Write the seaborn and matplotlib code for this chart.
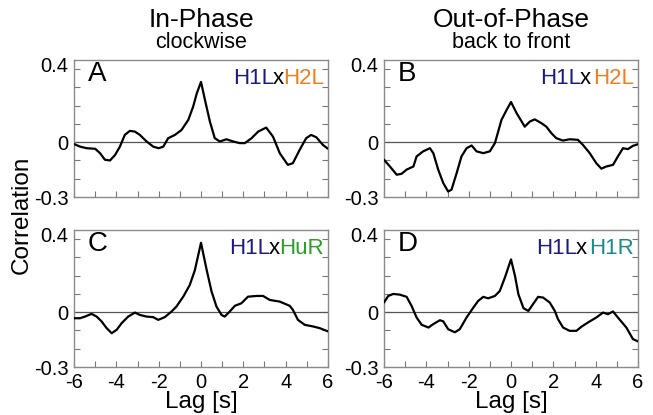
import numpy as np
import pandas as pd
import matplotlib
matplotlib.use("Agg")
import matplotlib.pyplot as plt
import matplotlib.transforms as mtransforms
import seaborn as sns

sns.set_theme(style="white")
plt.rcParams['font.family'] = ['Liberation Sans', 'DejaVu Sans']
plt.rcParams['text.color'] = 'black'

# ---- data ----
lag_A = [-6.0, -5.72, -5.4, -5.0, -4.77, -4.54, -4.3, -4.06, -3.83, -3.6, -3.36, -3.12, -2.89,
         -2.57, -2.26, -2.0, -1.78, -1.55, -1.23, -0.92, -0.6, -0.37, -0.2, 0.0, 0.19, 0.42,
         0.65, 0.89, 1.2, 1.52, 1.83, 2.07, 2.39, 2.7, 3.08, 3.4, 3.72, 4.1, 4.34, 4.66, 4.97,
         5.2, 5.45, 5.76, 6.0]
corr_A = [-0.01, -0.024, -0.033, -0.036, -0.06, -0.096, -0.1, -0.07, -0.024, 0.04, 0.062, 0.058,
          0.04, 0.004, -0.024, -0.033, -0.024, 0.022, 0.04, 0.067, 0.122, 0.195, 0.267, 0.33,
          0.23, 0.113, 0.022, 0.004, 0.016, 0.004, -0.005, -0.005, 0.022, 0.058, 0.08, 0.031,
          -0.06, -0.124, -0.115, -0.042, 0.022, 0.04, 0.027, -0.015, -0.036]

lag_B = [-6.0, -5.72, -5.4, -5.17, -4.93, -4.61, -4.46, -4.15, -3.83, -3.67, -3.44, -3.2, -2.97,
         -2.81, -2.57, -2.34, -2.1, -1.86, -1.63, -1.31, -1.0, -0.76, -0.45, -0.21, 0.0, 0.27,
         0.65, 0.89, 1.12, 1.44, 1.67, 1.91, 2.14, 2.45, 2.77, 3.16, 3.4, 3.72, 4.03, 4.27,
         4.5, 4.82, 5.05, 5.29, 5.52, 5.76, 6.0]
corr_B = [-0.096, -0.133, -0.178, -0.173, -0.15, -0.133, -0.078, -0.05, -0.033, -0.06, -0.15,
          -0.224, -0.27, -0.26, -0.17, -0.078, -0.033, -0.018, -0.05, -0.06, -0.05, -0.005, 0.122,
          0.176, 0.22, 0.158, 0.085, 0.113, 0.125, 0.104, 0.085, 0.049, 0.022, 0.009, 0.016,
          0.013, -0.015, -0.06, -0.115, -0.145, -0.133, -0.124, -0.078, -0.033, -0.038, -0.02,
          -0.011]

lag_C = [-6.0, -5.72, -5.48, -5.17, -4.93, -4.7, -4.46, -4.22, -3.98, -3.75, -3.44, -3.12, -2.89,
         -2.57, -2.26, -2.02, -1.71, -1.39, -1.16, -0.84, -0.53, -0.29, 0.0, 0.27, 0.5, 0.73,
         0.97, 1.12, 1.36, 1.6, 1.91, 2.22, 2.62, 2.93, 3.25, 3.72, 4.19, 4.34, 4.58, 4.9,
         5.29, 5.6, 6.0]
corr_C = [-0.033, -0.033, -0.024, -0.009, -0.024, -0.05, -0.087, -0.115, -0.096, -0.06, -0.024,
          -0.002, -0.015, -0.024, -0.027, -0.042, -0.027, 0.004, 0.031, 0.085, 0.149, 0.23, 0.38,
          0.23, 0.113, 0.031, -0.015, -0.024, 0.004, 0.035, 0.049, 0.085, 0.089, 0.089, 0.067,
          0.058, 0.035, 0.013, -0.042, -0.069, -0.078, -0.087, -0.105]

lag_D = [-6.0, -5.8, -5.56, -5.25, -4.93, -4.7, -4.46, -4.22, -3.9, -3.67, -3.36, -3.2, -2.97,
         -2.65, -2.42, -2.1, -1.78, -1.55, -1.31, -1.08, -0.76, -0.53, -0.29, 0.0, 0.19, 0.35,
         0.59, 0.82, 1.04, 1.28, 1.52, 1.83, 2.07, 2.22, 2.46, 2.77, 3.09, 3.32, 3.64, 4.03,
         4.35, 4.58, 4.82, 5.05, 5.45, 5.76, 6.0]
corr_D = [0.053, 0.089, 0.1, 0.096, 0.084, 0.035, -0.029, -0.069, -0.084, -0.065, -0.044, -0.05,
          -0.093, -0.11, -0.093, -0.029, 0.025, 0.062, 0.084, 0.076, 0.089, 0.116, 0.189, 0.289,
          0.198, 0.098, 0.022, 0.007, 0.044, 0.084, 0.08, 0.053, 0.007, -0.038, -0.084, -0.102,
          -0.102, -0.08, -0.056, -0.029, -0.002, -0.011, 0.004, -0.029, -0.084, -0.147, -0.16]

panel_letters = ["A", "B", "C", "D"]
partner_names = ["H2L", "H2L", "HuR", "H1R"]
partner_colors = ["#f07d1e", "#f07d1e", "#2aa02a", "#1a8a8a"]
col_titles = ["In-Phase", "Out-of-Phase"]
col_subtitles = ["clockwise", "back to front"]
x_ticks = list(range(-6, 7))
y_ticks = [-0.3, -0.2, -0.1, 0.0, 0.1, 0.2, 0.3, 0.4]
y_labels = ["-0.3", "", "", "0", "", "", "", "0.4"]

df = pd.concat([
    pd.DataFrame({"lag": lag_A, "corr": corr_A, "panel": "A"}),
    pd.DataFrame({"lag": lag_B, "corr": corr_B, "panel": "B"}),
    pd.DataFrame({"lag": lag_C, "corr": corr_C, "panel": "C"}),
    pd.DataFrame({"lag": lag_D, "corr": corr_D, "panel": "D"}),
], ignore_index=True)

fig = plt.figure(figsize=(6.53, 4.15), dpi=100)
W, H = 653, 415
lefts = [74, 384]
tops = [60, 230]
aw, ah = 254, 137

navy = "#1a1a80"
fig.canvas.draw()
renderer = fig.canvas.get_renderer()
for i, letter in enumerate(panel_letters):
    r, c = divmod(i, 2)
    ax = fig.add_axes([lefts[c] / W, 1 - (tops[r] + ah) / H, aw / W, ah / H])
    sub = df[df["panel"] == letter]
    ax.axhline(0, color="#555555", lw=0.9, zorder=1)
    sns.lineplot(data=sub, x="lag", y="corr", ax=ax, color="black", lw=1.6,
                 sort=False, estimator=None, zorder=3)
    ax.set_xlim(-6, 6)
    ax.set_ylim(-0.3, 0.45)
    ax.set_xticks(x_ticks)
    ax.set_yticks(y_ticks)
    if r == 1:
        ax.set_xticklabels([str(v) if v % 2 == 0 else "" for v in x_ticks])
    else:
        ax.set_xticklabels([])
    ax.set_yticklabels(y_labels)
    ax.tick_params(axis="both", direction="in", length=4, width=0.8, color="#777777",
                   labelcolor="black", labelsize=14.5, pad=4,
                   left=True, right=True, bottom=True, top=False)
    # nudge the top label up slightly, as in the reference
    for lab in ax.get_yticklabels():
        if lab.get_text() == "0.4":
            lab.set_transform(lab.get_transform() +
                              mtransforms.ScaledTranslation(0, 5 / 100, fig.dpi_scale_trans))
    ax.set_xlabel("")
    ax.set_ylabel("")
    for s in ax.spines.values():
        s.set_color("#8a8a8a")
        s.set_linewidth(1.0)
    ax.text(0.055, 0.995, letter, transform=ax.transAxes, fontsize=20, va="top", ha="left",
            color="black")
    # colored pair label, built right to left
    x_right = 0.985
    gap = 0.012 if letter in "BD" else 0.0
    pieces = [(partner_names[i], partner_colors[i], gap), ("x", "black", 0.0), ("H1L", navy, 0.0)]
    for txt, col, g in pieces:
        t = ax.text(x_right, 0.94, txt, transform=ax.transAxes, fontsize=16, va="top",
                    ha="right", color=col)
        bb = t.get_window_extent(renderer=renderer)
        bb_ax = bb.transformed(ax.transAxes.inverted())
        x_right = bb_ax.x0 - g + 0.003

for c in range(2):
    cx = (lefts[c] + aw / 2) / W
    fig.text(cx, 1 - 20 / H, col_titles[c], ha="center", va="center", fontsize=19)
    fig.text(cx, 1 - 42 / H, col_subtitles[c], ha="center", va="center", fontsize=15.5)
    fig.text(cx, 1 - 402 / H, "Lag [s]", ha="center", va="center", fontsize=17.5)

fig.text(22 / W, 1 - 215 / H, "Correlation", rotation=90, ha="center", va="center",
         fontsize=17.5)

fig.savefig("out.png", dpi=100)
